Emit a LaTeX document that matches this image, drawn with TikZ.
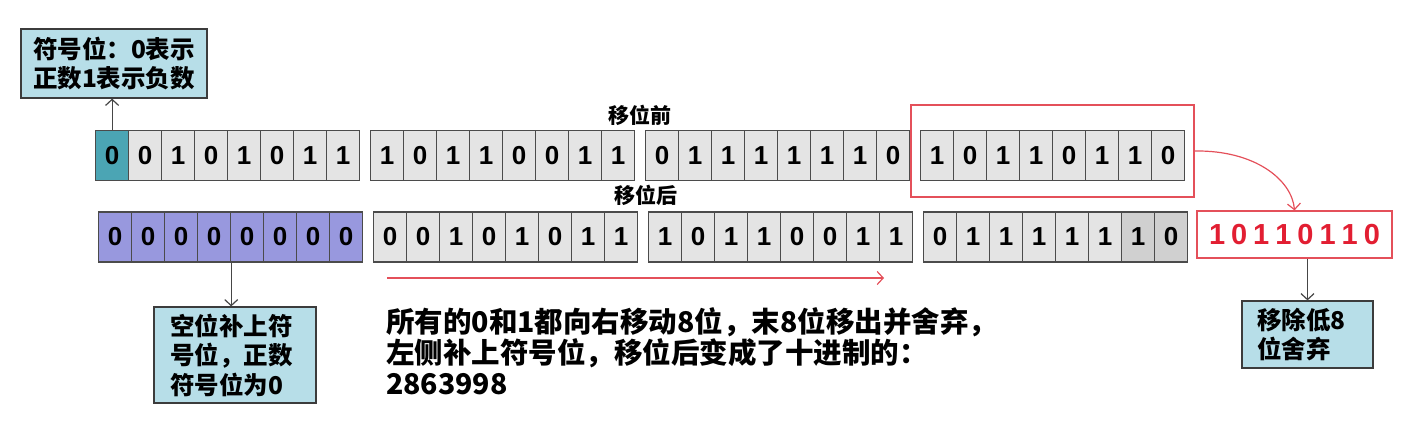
\documentclass[tikz,border=0pt]{standalone}
\usepackage{fontspec}
\setmainfont{Liberation Sans}
\newfontfamily\cjk{Noto Sans CJK SC}
\usetikzlibrary{arrows.meta}
\definecolor{cellfill}{RGB}{228,228,228}
\definecolor{celldark}{RGB}{208,208,208}
\definecolor{cellline}{RGB}{75,75,75}
\definecolor{tealcell}{RGB}{75,165,180}
\definecolor{purplecell}{RGB}{152,152,222}
\definecolor{boxfill}{RGB}{183,222,232}
\definecolor{boxline}{RGB}{60,60,60}
\definecolor{redtxt}{RGB}{226,30,50}
\definecolor{redline}{RGB}{228,80,90}
\definecolor{grayarrow}{RGB}{70,70,70}
\begin{document}
\begin{tikzpicture}[x=1pt,y=-1pt,
  cell/.style={draw=cellline, line width=1.2pt, minimum width=33pt, minimum height=50pt,
    inner sep=0pt, anchor=west, font=\fontsize{26}{26}\selectfont\bfseries},
  notebox/.style={draw=boxline, line width=1.2pt, fill=boxfill, inner sep=0pt, align=left,
    font=\cjk\bfseries\fontsize{24.5}{29.5}\selectfont},
  graytip/.style={draw=grayarrow, line width=1.2pt, -{Straight Barb[length=6pt,width=13pt]}},
  redtip/.style={draw=redline, line width=1.2pt, -{Straight Barb[length=6pt,width=13pt]}},
  lbl/.style={font=\cjk\bfseries\fontsize{21}{21}\selectfont, inner sep=0pt}]
\path[use as bounding box] (0,0) rectangle (1424,442);
% top row (before shift)
\foreach \d/\f [count=\i] in {0/tealcell,0/cellfill,1/cellfill,0/cellfill,1/cellfill,0/cellfill,1/cellfill,1/cellfill}
  \node[cell, fill=\f] (t1-\i) at ({95+(\i-1)*33},155.5) {\d};
\foreach \d [count=\i] in {1,0,1,1,0,0,1,1}
  \node[cell, fill=cellfill] (t2-\i) at ({370+(\i-1)*33},155.5) {\d};
\foreach \d [count=\i] in {0,1,1,1,1,1,1,0}
  \node[cell, fill=cellfill] (t3-\i) at ({645+(\i-1)*33},155.5) {\d};
\foreach \d [count=\i] in {1,0,1,1,0,1,1,0}
  \node[cell, fill=cellfill] (t4-\i) at ({920+(\i-1)*33},155.5) {\d};
% bottom row (after shift)
\foreach \d [count=\i] in {0,0,0,0,0,0,0,0}
  \node[cell, fill=purplecell] (b1-\i) at ({98+(\i-1)*33},237) {\d};
\foreach \d [count=\i] in {0,0,1,0,1,0,1,1}
  \node[cell, fill=cellfill] (b2-\i) at ({373+(\i-1)*33},237) {\d};
\foreach \d [count=\i] in {1,0,1,1,0,0,1,1}
  \node[cell, fill=cellfill] (b3-\i) at ({648+(\i-1)*33},237) {\d};
\foreach \d/\f [count=\i] in {0/cellfill,1/cellfill,1/cellfill,1/cellfill,1/cellfill,1/cellfill,1/celldark,0/celldark}
  \node[cell, fill=\f] (b4-\i) at ({923+(\i-1)*33},237) {\d};
% labels
\node[lbl] (before) at (640,115) {移位前};
\node[lbl] (after) at (646,195) {移位后};
% red boxes
\node[draw=redline, line width=1.2pt, minimum width=283pt, minimum height=92pt, inner sep=0pt] (redtop) at (1052.5,151) {};
\node[draw=redline, line width=1.2pt, minimum width=195pt, minimum height=47pt, inner sep=0pt,
  text=redtxt, font=\fontsize{29}{29}\selectfont\bfseries] (redbox) at (1294.5,234.5)
  {1\kern6pt 0\kern6pt 1\kern6pt 1\kern6pt 0\kern6pt 1\kern6pt 1\kern6pt 0};
\draw[redtip] (redtop.east) .. controls (1255,150) and (1292,180) .. (redbox.north);
% note boxes
\node[notebox, minimum width=186pt, minimum height=69pt, text width=162pt, inner xsep=12pt] (signnote) at (114,63.5)
  {符号位：0表示\\正数1表示负数};
\node[notebox, minimum width=162pt, minimum height=96pt, text width=130pt, inner xsep=16pt] (fillnote) at (235,355)
  {空位补上符\\号位，正数\\符号位为0};
\node[notebox, minimum width=131pt, minimum height=67pt, text width=101pt, inner xsep=15pt] (dropnote) at (1307.5,334.5)
  {移除低8\\位舍弃};
% gray arrows
\draw[graytip] (t1-1.north) -- (t1-1.north |- signnote.south);
\draw[graytip] (b1-4.south east) -- (b1-4.south east |- fillnote.north);
\draw[graytip] (dropnote.north |- redbox.south) -- (dropnote.north);
% shift arrow
\coordinate (sa) at (387,278);
\coordinate (sb) at (884,278);
\draw[redtip] (sa) -- (sb);
% description
\node[anchor=north west, inner sep=0pt, align=left, font=\cjk\bfseries\fontsize{28.5}{31}\selectfont] (desc) at (386,307)
  {所有的0和1都向右移动8位，末8位移出并舍弃，\\左侧补上符号位，移位后变成了十进制的：\\2863998};
\end{tikzpicture}
\end{document}
